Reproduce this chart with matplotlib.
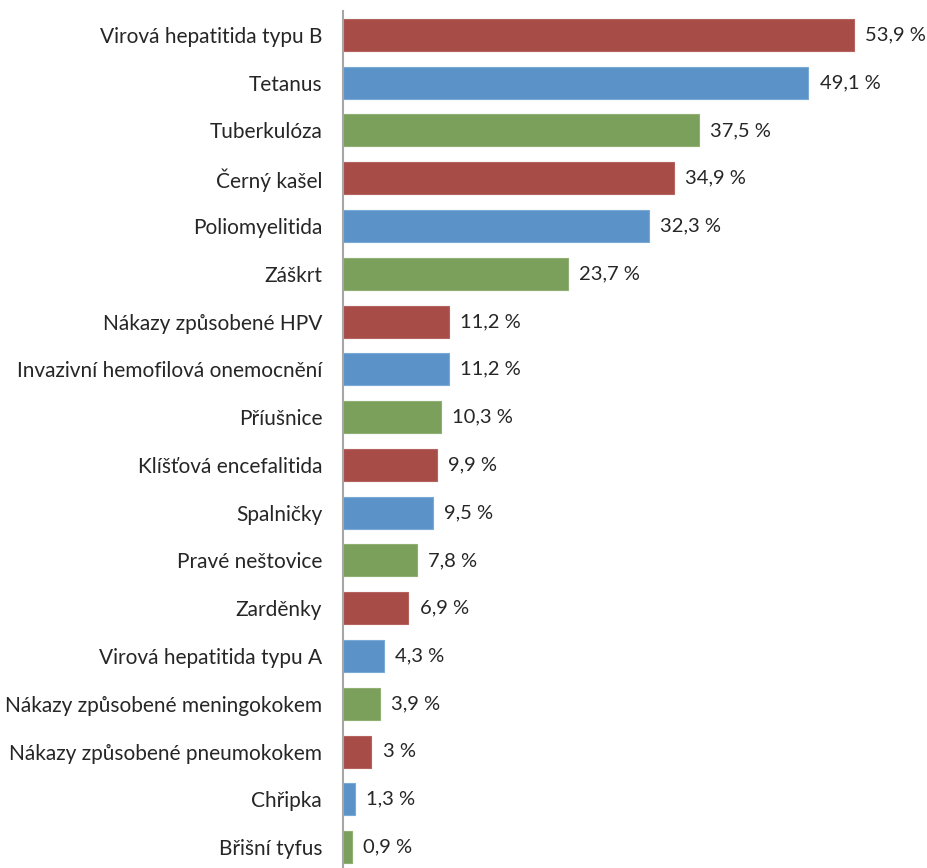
import matplotlib.pyplot as plt

plt.rcParams['font.family'] = ['Lato', 'DejaVu Sans']

nemoci = ['Virová hepatitida typu B', 'Tetanus', 'Tuberkulóza', 'Černý kašel',
          'Poliomyelitida', 'Záškrt', 'Nákazy způsobené HPV',
          'Invazivní hemofilová onemocnění', 'Příušnice', 'Klíšťová encefalitida',
          'Spalničky', 'Pravé neštovice', 'Zarděnky', 'Virová hepatitida typu A',
          'Nákazy způsobené meningokokem', 'Nákazy způsobené pneumokokem',
          'Chřipka', 'Břišní tyfus']
hodnoty = [53.9, 49.1, 37.5, 34.9, 32.3, 23.7, 11.2, 11.2, 10.3, 9.9,
           9.5, 7.8, 6.9, 4.3, 3.9, 3.0, 1.3, 0.9]
barvy = ['#A84C48', '#5B93C9', '#7BA05B']
okraje = ['#B5635F', '#7AAAD6', '#8FB072']

fig = plt.figure(figsize=(9.27, 8.68), dpi=100)
ax = fig.add_axes([0.370, -0.0035, 0.63, 0.9908])

y = list(range(len(nemoci)))
for i, (v, n) in enumerate(zip(hodnoty, nemoci)):
    ax.barh(i, v, height=0.67, color=barvy[i % 3], edgecolor=okraje[i % 3], linewidth=0.8)
    txt = ('%.1f' % v).replace('.', ',') if v != int(v) else '%d' % v
    ax.annotate(txt + ' %', (v, i), xytext=(8, 0), textcoords='offset points',
                ha='left', va='center', fontsize=14.5, color='#262626')

ax.set_yticks(y)
ax.set_yticklabels(nemoci, fontsize=15, color='#262626')
ax.set_ylim(len(nemoci) - 0.5, -0.5)
ax.set_xlim(0, 61.6)
ax.tick_params(axis='y', length=0, pad=15)
ax.set_xticks([])
for s in ['top', 'right', 'bottom']:
    ax.spines[s].set_visible(False)
ax.spines['left'].set_color('#A6A6A6')
ax.spines['left'].set_linewidth(1.5)

fig.savefig('out.png', dpi=100)
